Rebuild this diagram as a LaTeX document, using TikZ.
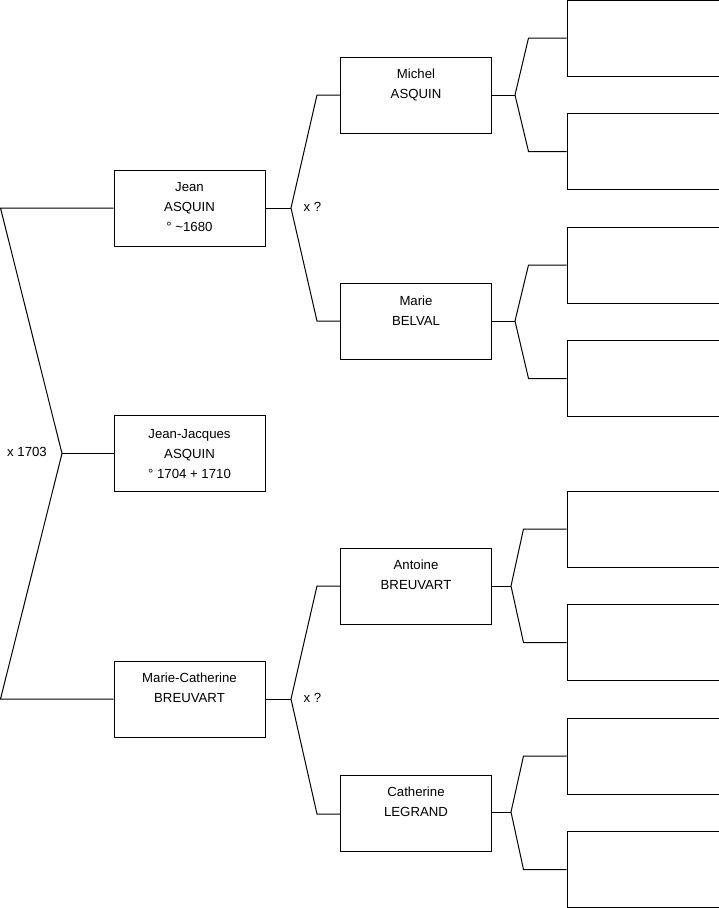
\documentclass[tikz,border=0pt]{standalone}
\usepackage{fontspec}
\setmainfont{Liberation Sans}
\begin{document}
\begin{tikzpicture}[x=1pt,y=-1pt,
  pbox/.style={draw=black,line width=1pt,minimum width=151pt,minimum height=76pt,inner sep=0pt},
  ebox/.style={draw=black,line width=1pt,minimum width=152pt,minimum height=76pt,inner sep=0pt},
  txt/.style={anchor=north,inner sep=0pt,align=center,font=\fontsize{13.2}{20}\selectfont},
  lbl/.style={inner sep=0pt,font=\fontsize{13.2}{16}\selectfont},
  conn/.style={draw=black,line width=1pt}]
\useasboundingbox (0,0) rectangle (719,908);
% generation 1
\node[pbox] (jean) at (189.5,208) {};
\node[pbox] (jj) at (189.5,453.5) {};
\node[pbox] (mc) at (189.5,699) {};
% generation 2
\node[pbox] (michel) at (416,95) {};
\node[pbox] (marie) at (416,321.5) {};
\node[pbox] (antoine) at (416,586) {};
\node[pbox] (catherine) at (416,813) {};
% generation 3 (empty)
\node[ebox] (r1) at (643,38) {};
\node[ebox] (r2) at (643,151.5) {};
\node[ebox] (r3) at (643,265) {};
\node[ebox] (r4) at (643,378.5) {};
\node[ebox] (r5) at (643,529) {};
\node[ebox] (r6) at (643,642.5) {};
\node[ebox] (r7) at (643,756) {};
\node[ebox] (r8) at (643,869.5) {};
% texts
\node[txt] (jeanT) at ([yshift=-12.5pt]jean.north) {Jean\\ASQUIN\\° \textasciitilde1680};
\node[txt] (jjT) at ([yshift=-14.5pt]jj.north) {Jean-Jacques\\ASQUIN\\° 1704 + 1710};
\node[txt] (mcT) at ([yshift=-12.5pt]mc.north) {Marie-Catherine\\BREUVART};
\node[txt] (michelT) at ([yshift=-12.5pt]michel.north) {Michel\\ASQUIN};
\node[txt] (marieT) at ([yshift=-12.5pt]marie.north) {Marie\\BELVAL};
\node[txt] (antoineT) at ([yshift=-12.5pt]antoine.north) {Antoine\\BREUVART};
\node[txt] (catherineT) at ([yshift=-12.5pt]catherine.north) {Catherine\\LEGRAND};
% branch points
\coordinate (tl) at (0.5,208);
\coordinate (bl) at (0.5,699);
\coordinate (lb) at (62,453.5);
\coordinate (jb) at (291,208);
\coordinate (mcb) at (291,699);
\coordinate (mib) at (515,95);
\coordinate (mab) at (515,321);
\coordinate (anb) at (511,586);
\coordinate (cab) at (511,812);
% labels
\node[lbl] (m1703) at (27,452) {x 1703};
\node[lbl] (mj) at (312.5,207) {x ?};
\node[lbl] (mm) at (312.5,698) {x ?};
% connectors
\draw[conn] (jean.west) -- (tl) -- (lb) -- (bl) -- (mc.west);
\draw[conn] (lb) -- (jj.west);
\draw[conn] (jean.east) -- (jb);
\draw[conn] (michel.west) -- ([xshift=-23pt]michel.west) -- (jb) -- ([xshift=-23pt,yshift=0.5pt]marie.west) -- ([yshift=0.5pt]marie.west);
\draw[conn] (mc.east) -- (mcb);
\draw[conn] (antoine.west) -- ([xshift=-23pt]antoine.west) -- (mcb) -- ([xshift=-23pt,yshift=-1pt]catherine.west) -- ([yshift=-1pt]catherine.west);
\draw[conn] (michel.east) -- (mib);
\draw[conn] (r1.west) -- ([xshift=-38pt]r1.west) -- (mib) -- ([xshift=-38pt]r2.west) -- (r2.west);
\draw[conn] (marie.east |- mab) -- (mab);
\draw[conn] (r3.west) -- ([xshift=-38pt]r3.west) -- (mab) -- ([xshift=-38pt]r4.west) -- (r4.west);
\draw[conn] (antoine.east) -- (anb);
\draw[conn] (r5.west) -- ([xshift=-43pt]r5.west) -- (anb) -- ([xshift=-43pt]r6.west) -- (r6.west);
\draw[conn] (catherine.east |- cab) -- (cab);
\draw[conn] (r7.west) -- ([xshift=-43pt]r7.west) -- (cab) -- ([xshift=-43pt]r8.west) -- (r8.west);
\end{tikzpicture}
\end{document}
